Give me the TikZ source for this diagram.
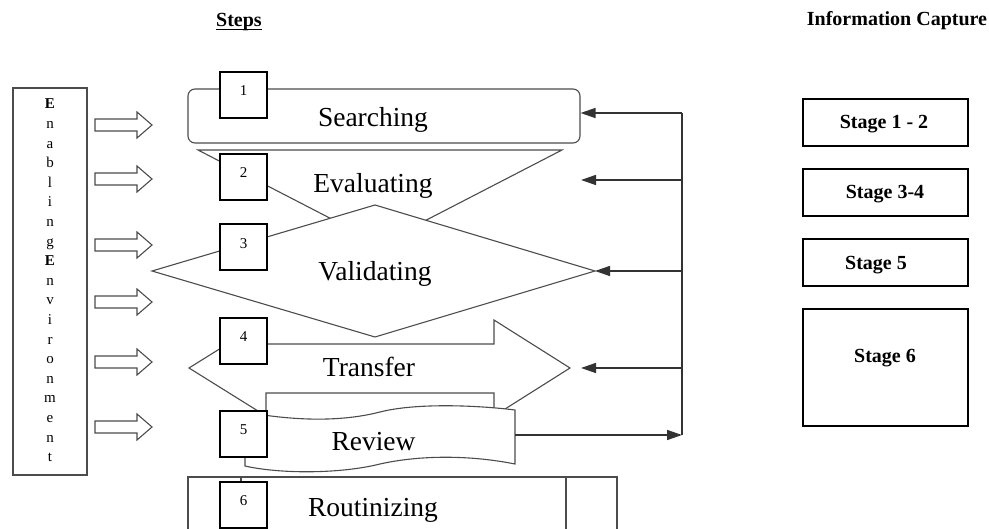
\documentclass[tikz,border=0pt]{standalone}
\usepackage{fontspec}
\setmainfont{Liberation Serif}
\usetikzlibrary{arrows.meta}
\tikzset{
  outl/.style={draw=black!70,line width=1.1pt},
  hollowarr/.pic={\draw[outl,fill=white] (0,-6) -- (42,-6) -- (42,-13) -- (57,0) -- (42,13) -- (42,6) -- (0,6) -- cycle;}
}
\begin{document}
\begin{tikzpicture}[x=1pt,y=-1pt,
  numbox/.style={draw=black,line width=1.6pt,fill=white,minimum width=47pt,minimum height=46pt,inner sep=0pt},
  numtxt/.style={font=\fontsize{15}{18}\selectfont,anchor=base,inner sep=0pt},
  stagebox/.style={draw=black,line width=1.5pt,minimum width=165pt,inner sep=0pt},
  stagetxt/.style={font=\fontsize{20}{24}\selectfont\bfseries,anchor=base,inner sep=0pt},
  steptxt/.style={font=\fontsize{27.5}{32}\selectfont,anchor=base,inner sep=0pt},
  letter/.style={font=\fontsize{15}{18}\selectfont,anchor=base,inner sep=0pt},
  fbline/.style={draw=black!80,line width=1.5pt},
  fbarrow/.style={fbline,-{Triangle[length=15pt,width=10pt]}}
]
\path[use as bounding box] (0,0) rectangle (989,529);
\clip (0,0) rectangle (989,529);

% headers
\node[font=\fontsize{20}{24}\selectfont\bfseries,anchor=base,inner sep=0pt] (steps) at (239,26.5) {Steps};
\draw[line width=1.3pt] ([yshift=-2.8pt]steps.base west) -- ([yshift=-2.8pt]steps.base east);
\node[font=\fontsize{20}{24}\selectfont\bfseries,anchor=base,inner sep=0pt] (info) at (897,26) {Information Capture};

% enabling environment column
\node[outl,minimum width=74pt,minimum height=387pt,inner sep=0pt] (env) at (50,281.5) {};
\foreach \c [count=\i] in {\textbf{E},n,a,b,l,i,n,g,\textbf{E},n,v,i,r,o,n,m,e,n,t}
  \node[letter] (l\i) at (50,{109+(\i-1)*19.6}) {\c};

% hollow arrows
\foreach \y in {125,179,245,302,362,427}
  \pic at (95,\y) {hollowarr};

% step shapes
\node[outl,fill=white,rounded corners=7pt,minimum width=392pt,minimum height=54pt,inner sep=0pt] (srch) at (384,116) {};
\node[steptxt] (srchT) at (373,126.5) {Searching};

\draw[outl,fill=white] (198,150) -- (562,150) -- (380,244) -- cycle;
\node[steptxt] (evalT) at (373,192.5) {Evaluating};

\draw[outl,fill=white] (375,205) -- (595,271) -- (375,337) -- (152,271) -- cycle;
\coordinate (valR) at (595,271);
\node[steptxt] (valT) at (375,280.5) {Validating};

\draw[outl,fill=white] (189,368) -- (266,320) -- (266,344) -- (494,344) -- (494,320) -- (570,368)
  -- (494,416) -- (494,393) -- (266,393) -- (266,416) -- cycle;
\node[steptxt] (trT) at (369,376.5) {Transfer};

\draw[outl,fill=white] (245,412) .. controls (300,422) and (345,421) .. (380,412)
  .. controls (415,403) and (475,405) .. (515,410) -- (515,464)
  .. controls (470,455) and (420,455) .. (380,464)
  .. controls (340,474) and (280,474) .. (245,466) -- cycle;
\coordinate (revR) at (515,435);
\node[steptxt] (revT) at (373.5,450.5) {Review};

\node[outl,fill=white,minimum width=429pt,minimum height=70pt,inner sep=0pt] (rout) at (402.5,512) {};
\draw[outl] (241,477) -- (241,547);
\draw[outl] (566,477) -- (566,547);
\node[steptxt] (routT) at (373,516.5) {Routinizing};

% step numbers
\foreach \n/\t in {1/71,2/153,3/223.5,4/317,5/410,6/481} {
  \node[numbox,anchor=north] (b\n) at (243.5,\t) {};
  \node[numtxt] (d\n) at ([yshift=-25pt]b\n.north) {\n};
}

% feedback loop
\coordinate (fbA) at (682,113);
\coordinate (fbB) at (682,180);
\coordinate (fbC) at (682,271);
\coordinate (fbD) at (682,368);
\coordinate (fbE) at (682,435);
\coordinate (evalIn) at (581,180);
\coordinate (trIn) at (581,368);
\draw[fbline] (fbA) -- (fbE);
\draw[fbarrow] (fbA) -- (fbA -| srch.east);
\draw[fbarrow] (fbB) -- (evalIn);
\draw[fbarrow] (fbC) -- (valR);
\draw[fbarrow] (fbD) -- (trIn);
\draw[fbarrow] (revR) -- (fbE);

% information capture stages
\node[stagebox,minimum height=47pt] (s1) at (885.5,122.5) {};
\node[stagetxt] (s1T) at (884,129) {Stage 1 - 2};
\node[stagebox,minimum height=47pt] (s2) at (885.5,192.5) {};
\node[stagetxt] (s2T) at (885,199) {Stage 3-4};
\node[stagebox,minimum height=47pt] (s3) at (885.5,262.5) {};
\node[stagetxt] (s3T) at (876,270) {Stage 5};
\node[stagebox,minimum height=117pt] (s4) at (885.5,367.5) {};
\node[stagetxt] (s4T) at (885,363) {Stage 6};
\end{tikzpicture}
\end{document}
